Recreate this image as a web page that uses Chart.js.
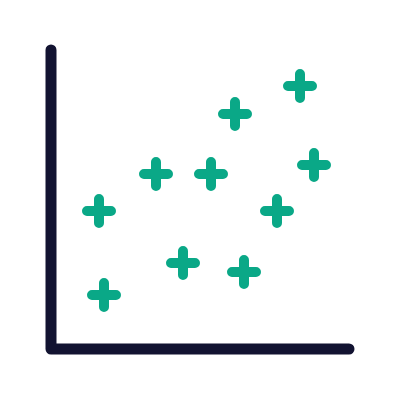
<!DOCTYPE html>
<html>
<head>
<meta charset="utf-8">
<script src="https://cdn.jsdelivr.net/npm/chart.js@4/dist/chart.umd.min.js"></script>
<style>
  html, body { margin: 0; padding: 0; background: #fff; }
  #wrap { width: 400px; height: 400px; }
</style>
</head>
<body>
<div id="wrap"><canvas id="scatterChart" width="400" height="400"></canvas></div>
<script>
// point values (axes run 0..300)
const xValues = [48, 53, 105, 132, 160, 184, 193, 226, 249, 263];
const yValues = [138, 54, 175, 86, 175, 235, 77, 138, 263, 184];

const axisColor = '#121331';
const markColor = '#0aa887';

const points = xValues.map((x, i) => ({ x: x, y: yValues[i] }));

// plus mark with rounded ends, used as the point style
function makePlus() {
    const c = document.createElement('canvas');
    c.width = 36;
    c.height = 36;
    const g = c.getContext('2d');
    g.strokeStyle = markColor;
    g.lineWidth = 10;
    g.lineCap = 'round';
    g.beginPath();
    g.moveTo(6, 18);
    g.lineTo(30, 18);
    g.moveTo(18, 6);
    g.lineTo(18, 30);
    g.stroke();
    return c;
}

// axis lines with rounded ends, drawn from the chart area
const axisLines = {
    id: 'axisLines',
    beforeDatasetsDraw(chart) {
        const ctx = chart.ctx;
        const a = chart.chartArea;
        ctx.save();
        ctx.strokeStyle = axisColor;
        ctx.lineWidth = 11;
        ctx.lineCap = 'round';
        ctx.lineJoin = 'round';
        ctx.beginPath();
        ctx.moveTo(a.left, a.top + 1);
        ctx.lineTo(a.left, a.bottom);
        ctx.lineTo(a.right - 2, a.bottom);
        ctx.stroke();
        ctx.restore();
    }
};

const ctx = document.getElementById('scatterChart').getContext('2d');

new Chart(ctx, {
    type: 'scatter',
    data: {
        datasets: [{
            data: points,
            pointStyle: makePlus(),
            pointRadius: 18,
            pointHoverRadius: 18
        }]
    },
    options: {
        responsive: false,
        animation: false,
        events: [],
        layout: {
            padding: { left: 51, right: 49, top: 49, bottom: 51 }
        },
        plugins: {
            legend: { display: false },
            tooltip: { enabled: false }
        },
        scales: {
            x: { type: 'linear', min: 0, max: 300, display: false },
            y: { type: 'linear', min: 0, max: 300, display: false }
        }
    },
    plugins: [axisLines]
});
</script>
</body>
</html>
